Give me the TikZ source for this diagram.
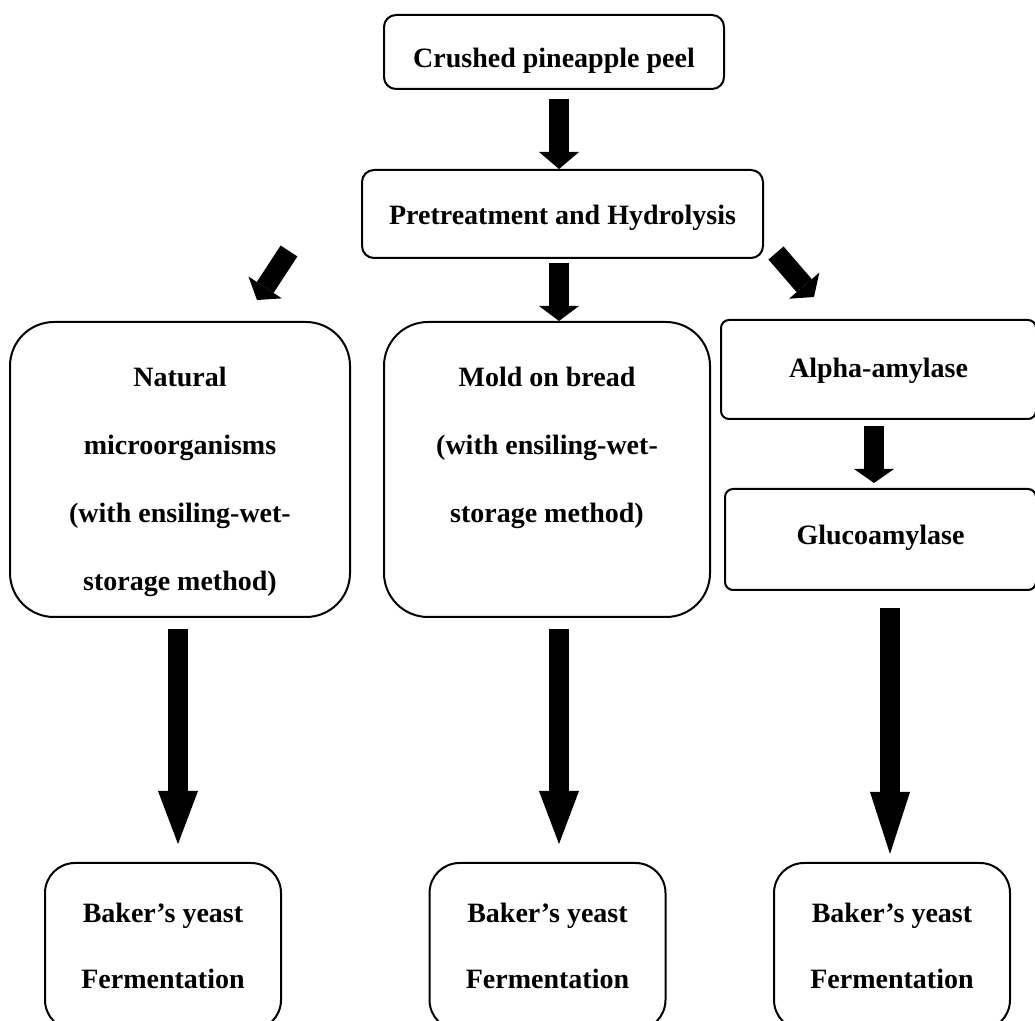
\documentclass[tikz,border=0pt]{standalone}
\usepackage{fontspec}
\setmainfont{Liberation Serif}
\usepackage{tikz}
\usetikzlibrary{arrows.meta,calc}
\newcommand{\boxlines}[1]{\begin{tabular}[t]{@{}c@{}}#1\end{tabular}}
\tikzset{
    stage/.style={rectangle,draw=black,line width=1pt,rounded corners=6pt,inner sep=0pt,font=\fontsize{14}{34}\selectfont\bfseries},
    tall/.style={stage,rounded corners=22pt,minimum width=#1,text height=32.5pt,text depth=115pt},
    enzyme/.style={stage,rounded corners=4pt,minimum width=#1},
    yeast/.style={stage,rounded corners=15pt,minimum width=118pt,text height=29.5pt,text depth=54pt,font=\fontsize{14}{33}\selectfont\bfseries},
    flow/.style={line width=10pt,-{Triangle[width=20pt,length=#1,line width=0pt]}},
    flow/.default=7.5pt,
}

\begin{document}
\begin{tikzpicture}[x=0.5pt,y=-0.5pt]
\useasboundingbox (0,0) rectangle (1035,1021);
% top of the flow
\node[stage,minimum width=170pt,text height=26.5pt,text depth=10.5pt] (peel) at (554,52) {Crushed pineapple peel};
\node[stage,minimum width=200.5pt,text height=27.5pt,text depth=16.5pt] (pretreat) at (562.5,214) {Pretreatment and Hydrolysis};
% three routes
\node[tall=170pt] (natural) at (180,469.5) {\boxlines{Natural\\microorganisms\\(with ensiling-wet-\\storage method)}};
\node[tall=163pt] (mold) at (547,469.5) {\boxlines{Mold on bread\\(with ensiling-wet-\\storage method)}};
\node[enzyme=157.5pt,text height=29pt,text depth=20.5pt] (alpha) at (878.5,369.5) {Alpha-amylase};
\node[enzyme=155.5pt,text height=28pt,text depth=22.5pt] (gluco) at (880.5,539.5) {Glucoamylase};
% fermentation
\node[yeast] (yeastA) at (163,946.5) {\boxlines{Baker's yeast\\Fermentation}};
\node[yeast] (yeastB) at (547.5,946.5) {\boxlines{Baker's yeast\\Fermentation}};
\node[yeast] (yeastC) at (892,946.5) {\boxlines{Baker's yeast\\Fermentation}};

\draw[flow=8.5pt] ($(peel.south)+(5,9)$) -- ($(pretreat.north)+(-3.5,0)$);
\draw[flow] ($(pretreat.south)+(-3.5,4)$) -- ($(mold.north)+(12,0)$);
\draw[flow] ($(pretreat.south west)+(-72,-8)$) -- ($(natural.north)+(77,-21)$);
\draw[flow] ($(pretreat.south east)+(12,-6)$) -- ($(alpha.north)+(-64.5,-22)$);
\draw[flow=7pt] ($(alpha.south)+(-4.5,6)$) -- ($(gluco.north)+(-6.5,-5)$);
\draw[flow=26.5pt] ($(natural.south)+(-2,11)$) -- ($(yeastA.north)+(15,-18)$);
\draw[flow=26.5pt] ($(mold.south)+(12,11)$) -- ($(yeastB.north)+(11.5,-18)$);
\draw[flow=31pt] ($(gluco.south)+(9.5,17)$) -- ($(yeastC.north)+(-2,-8)$);
\end{tikzpicture}
\end{document}
